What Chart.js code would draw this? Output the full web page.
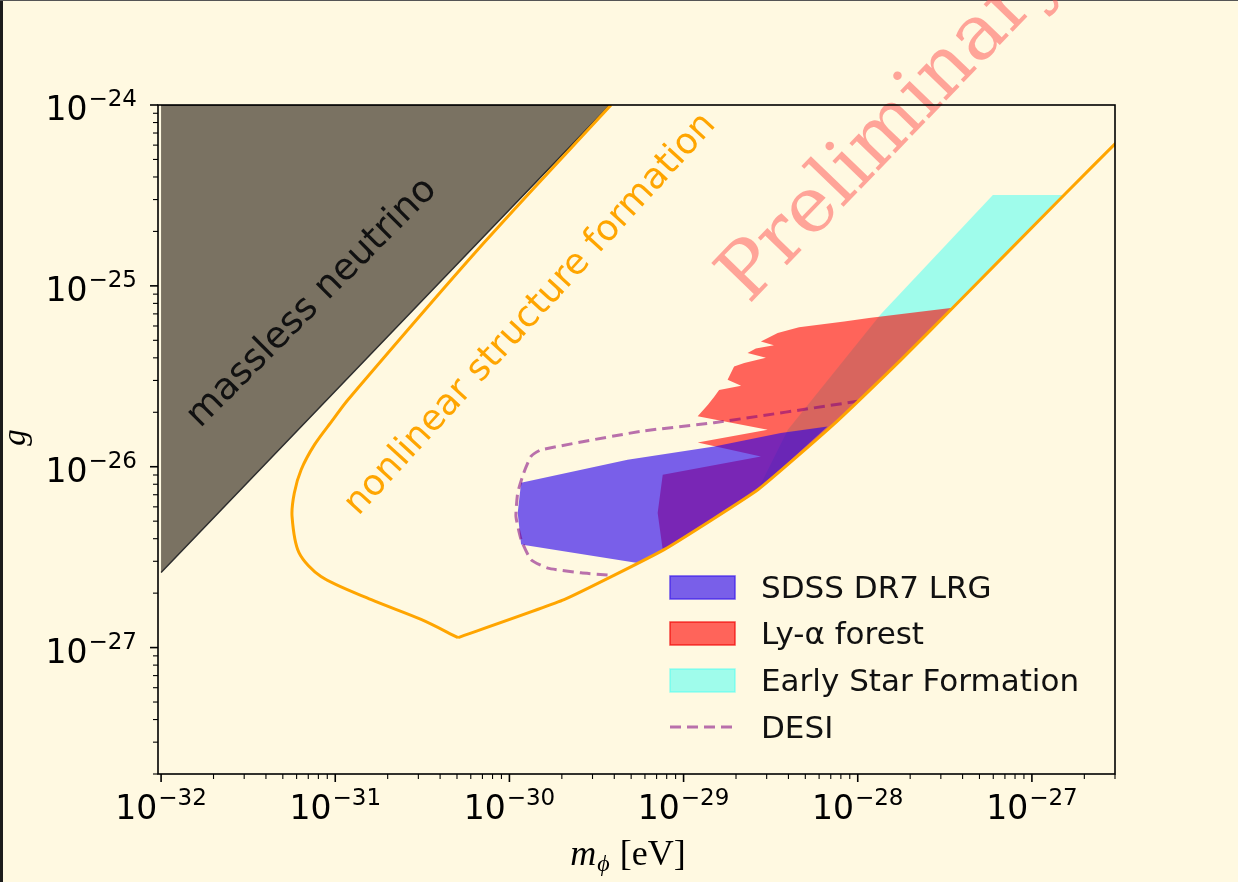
<!DOCTYPE html>
<html>
<head>
<meta charset="utf-8">
<script src="https://cdn.jsdelivr.net/npm/chart.js@4.4.1/dist/chart.umd.min.js"></script>
<style>
  body { margin: 0; background: #fff9e1; }
  canvas { display: block; }
</style>
</head>
<body>
<canvas id="boundsChart" width="1238" height="882"></canvas>
<script>
// axis limits and decade ticks
const massRange = [9.6e-33, 3e-27];
const couplingRange = [2e-28, 1e-24];
const massDecades = [-32, -31, -30, -29, -28, -27];
const couplingDecades = [-27, -26, -25, -24];

// massless neutrino (excluded, grey)
const neutrinoMass = [1e-32, 3.78e-30, 1e-32];
const neutrinoG = [2.6e-27, 1e-24, 1e-24];

// nonlinear structure formation boundary (orange), upper and lower branch
const nonlinearUpperMass = [3.83e-30, 7.14e-31, 1.18e-31, 9.7e-32, 7.59e-32, 6.37e-32, 5.82e-32, 5.65e-32,
  6.19e-32, 8.28e-32, 1.61e-31, 3.11e-31, 5.07e-31];
const nonlinearUpperG = [1e-24, 1.73e-25, 2.34e-26, 1.82e-26, 1.32e-26, 9.62e-27, 7.16e-27, 5.30e-27,
  3.35e-27, 2.47e-27, 1.84e-27, 1.43e-27, 1.135e-27];
const nonlinearLowerMass = [5.07e-31, 2.06e-30, 7.73e-30, 2.67e-29, 7.01e-29, 1.77e-28, 3.56e-28, 1.53e-27, 3.1e-27];
const nonlinearLowerG = [1.135e-27, 1.84e-27, 3.48e-27, 7.46e-27, 1.66e-26, 3.90e-26, 7.66e-26, 3.18e-25, 6.3e-25];

// early star formation (cyan)
const starMass = [5.97e-28, 1.53e-27, 3.56e-28, 1.77e-28, 1.0e-28, 7.01e-29, 2.67e-29, 3.97e-29, 1.36e-28];
const starG = [3.18e-25, 3.18e-25, 7.66e-26, 3.90e-26, 2.29e-26, 1.66e-26, 7.46e-27, 1.60e-26, 7.0e-26];

// Ly-alpha forest (red)
const lyaMass = [3.51e-28, 1.16e-28, 8.36e-29, 4.6e-29, 3.47e-29, 2.78e-29, 3.3e-29, 2.6e-29, 2.33e-29, 2.97e-29,
  2.23e-29, 1.95e-29, 1.79e-29, 2.14e-29, 1.60e-29, 1.50e-29, 1.38e-29, 1.205e-29, 3.04e-29, 1.205e-29,
  2.78e-29, 7.59e-30, 7.10e-30, 7.59e-30, 2.67e-29, 7.01e-29, 1.77e-28];
const lyaG = [7.56e-26, 6.65e-26, 6.35e-26, 5.9e-26, 5.48e-26, 4.92e-26, 4.7e-26, 4.5e-26, 4.25e-26, 4.00e-26,
  3.74e-26, 3.58e-26, 3.03e-26, 2.80e-26, 2.66e-26, 2.44e-26, 2.2e-26, 1.90e-26, 1.60e-26, 1.36e-26,
  1.14e-26, 9.03e-27, 5.55e-27, 3.48e-27, 7.46e-27, 1.66e-26, 3.90e-26];

// SDSS DR7 LRG (blue)
const sdssMass = [1.167e-30, 1.116e-30, 1.167e-30, 5.45e-30, 7.73e-30, 2.67e-29, 6.71e-29, 3.62e-29, 1.50e-29, 4.77e-30];
const sdssG = [8.16e-27, 5.55e-27, 3.71e-27, 2.94e-27, 3.48e-27, 7.46e-27, 1.67e-26, 1.535e-26, 1.294e-26, 1.094e-26];

// DESI forecast (dashed)
const desiMass = [3.66e-30, 2.58e-30, 1.66e-30, 1.33e-30, 1.167e-30, 1.09e-30, 1.116e-30, 1.21e-30, 1.33e-30,
  1.52e-30, 5.69e-30, 1.494e-29, 9.98e-29];
const desiG = [2.52e-27, 2.59e-27, 2.75e-27, 3.06e-27, 3.95e-27, 5.31e-27, 7.18e-27, 9.27e-27, 1.14e-26,
  1.24e-26, 1.57e-26, 1.75e-26, 2.30e-26];

function pts(xs, ys) {
    return xs.map((x, i) => ({ x: x, y: ys[i] }));
}

const clear = 'rgba(0,0,0,0)';

const decor = {
    id: 'decor',
    beforeDraw(chart) {
        const ctx = chart.ctx;
        ctx.save();
        ctx.fillStyle = '#fff9e1';
        ctx.fillRect(0, 0, chart.width, chart.height);
        ctx.fillStyle = '#1c1c1c';
        ctx.fillRect(0, 0, 3, chart.height);
        ctx.fillStyle = '#555';
        ctx.fillRect(0, 0, chart.width, 1);
        ctx.restore();
    },
    afterDatasetsDraw(chart) {
        const ctx = chart.ctx;
        const xs = chart.scales.x, ys = chart.scales.y;
        const area = chart.chartArea;

        function note(text, mx, gy, angle, font, color, align) {
            ctx.save();
            ctx.translate(xs.getPixelForValue(mx), ys.getPixelForValue(gy));
            ctx.rotate(angle * Math.PI / 180);
            ctx.font = font;
            ctx.fillStyle = color;
            ctx.textAlign = align;
            ctx.textBaseline = 'alphabetic';
            ctx.fillText(text, 0, 0);
            ctx.restore();
        }

        ctx.save();
        ctx.beginPath();
        ctx.rect(area.left, area.top, area.right - area.left, area.bottom - area.top);
        ctx.clip();
        note('massless neutrino', 8.07e-32, 7.37e-26, -45, '37px "DejaVu Sans"', '#111', 'center');
        note('nonlinear structure formation', 1.45e-30, 6.4e-26, -47.5, '36px "DejaVu Sans"', '#ffa500', 'center');
        ctx.restore();

        // watermark
        note('Preliminary', 2.37e-29, 7.85e-26, -46, '77px "DejaVu Serif"', 'rgba(255,80,80,0.5)', 'left');
    },
    afterDraw(chart) {
        const ctx = chart.ctx;
        const xs = chart.scales.x, ys = chart.scales.y;
        const a = chart.chartArea;
        ctx.save();

        // frame
        ctx.strokeStyle = '#000';
        ctx.lineWidth = 1.6;
        ctx.strokeRect(a.left, a.top, a.right - a.left, a.bottom - a.top);

        // ticks
        function tickX(v, len, w) {
            const p = xs.getPixelForValue(v);
            if (p < a.left - 0.5 || p > a.right + 0.5) return;
            ctx.lineWidth = w;
            ctx.beginPath();
            ctx.moveTo(p, a.bottom);
            ctx.lineTo(p, a.bottom + len);
            ctx.stroke();
        }
        function tickY(v, len, w) {
            const p = ys.getPixelForValue(v);
            if (p < a.top - 0.5 || p > a.bottom + 0.5) return;
            ctx.lineWidth = w;
            ctx.beginPath();
            ctx.moveTo(a.left, p);
            ctx.lineTo(a.left - len, p);
            ctx.stroke();
        }
        for (let n = -33; n <= -27; n++) {
            for (let k = 2; k <= 9; k++) tickX(k * Math.pow(10, n), 5, 1.1);
        }
        for (let n = -29; n <= -25; n++) {
            for (let k = 2; k <= 9; k++) tickY(k * Math.pow(10, n), 5, 1.1);
        }
        massDecades.forEach(n => tickX(Math.pow(10, n), 8, 1.6));
        couplingDecades.forEach(n => tickY(Math.pow(10, n), 8, 1.6));

        // tick labels, 10 with raised exponent
        function power(exp, x, y, align) {
            const sup = '\u2212' + Math.abs(exp);
            ctx.font = '33px "DejaVu Sans"';
            const wb = ctx.measureText('10').width;
            ctx.font = '23px "DejaVu Sans"';
            const ws = ctx.measureText(sup).width;
            const total = wb + ws + 1;
            const left = align === 'center' ? x - total / 2 : x - total;
            ctx.fillStyle = '#000';
            ctx.textAlign = 'left';
            ctx.textBaseline = 'alphabetic';
            ctx.font = '33px "DejaVu Sans"';
            ctx.fillText('10', left, y);
            ctx.font = '23px "DejaVu Sans"';
            ctx.fillText(sup, left + wb + 1, y - 14);
        }
        massDecades.forEach(n => power(n, xs.getPixelForValue(Math.pow(10, n)), a.bottom + 45, 'center'));
        couplingDecades.forEach(n => power(n, a.left - 21, ys.getPixelForValue(Math.pow(10, n)) + 15, 'right'));

        // axis titles
        ctx.fillStyle = '#000';
        ctx.textBaseline = 'alphabetic';
        ctx.save();
        ctx.translate(25, (a.top + a.bottom) / 2 - 2);
        ctx.rotate(-Math.PI / 2);
        ctx.font = 'italic 33px "Liberation Serif"';
        ctx.textAlign = 'center';
        ctx.fillText('g', 0, 0);
        ctx.restore();

        const fm = 'italic 36px "Liberation Serif"';
        const fs = 'italic 24px "Liberation Serif"';
        const fr = '36px "Liberation Serif"';
        ctx.font = fm; const w1 = ctx.measureText('m').width;
        ctx.font = fs; const w2 = ctx.measureText('\u03d5').width;
        ctx.font = fr; const w3 = ctx.measureText(' [eV]').width;
        let lx = 628 - (w1 + w2 + w3 + 2) / 2;
        const ly = 865;
        ctx.textAlign = 'left';
        ctx.font = fm; ctx.fillText('m', lx, ly); lx += w1 + 1;
        ctx.font = fs; ctx.fillText('\u03d5', lx, ly + 6); lx += w2 + 1;
        ctx.font = fr; ctx.fillText(' [eV]', lx, ly);

        // legend
        const rows = [
            { ds: 3, cy: 587 },
            { ds: 4, cy: 633 },
            { ds: 5, cy: 680 },
            { ds: 2, cy: 727 }
        ];
        rows.forEach(r => {
            const d = chart.data.datasets[r.ds];
            if (d.borderDash) {
                ctx.strokeStyle = d.borderColor;
                ctx.lineWidth = d.borderWidth;
                ctx.setLineDash(d.borderDash);
                ctx.beginPath();
                ctx.moveTo(670, r.cy);
                ctx.lineTo(735, r.cy);
                ctx.stroke();
                ctx.setLineDash([]);
            } else {
                ctx.fillStyle = d.backgroundColor;
                ctx.fillRect(670, r.cy - 11, 65, 23);
                ctx.strokeStyle = d.legendEdge;
                ctx.lineWidth = 1.5;
                ctx.strokeRect(670, r.cy - 11, 65, 23);
            }
            ctx.fillStyle = '#111';
            ctx.font = '31px "DejaVu Sans"';
            ctx.fillText(d.label, 761, r.cy + 11);
        });
        ctx.restore();
    }
};

new Chart(document.getElementById('boundsChart'), {
    type: 'line',
    data: {
        datasets: [
            {
                label: 'nonlinear structure formation',
                data: pts(nonlinearUpperMass, nonlinearUpperG),
                borderColor: '#ffa500',
                borderWidth: 3,
                tension: 0.3,
                fill: false,
                order: 0
            },
            {
                label: 'nonlinear structure formation (lower)',
                data: pts(nonlinearLowerMass, nonlinearLowerG),
                borderColor: '#ffa500',
                borderWidth: 3,
                tension: 0.12,
                fill: false,
                order: 0
            },
            {
                label: 'DESI',
                data: pts(desiMass, desiG),
                borderColor: 'rgba(128,0,128,0.55)',
                borderWidth: 3,
                borderDash: [11, 6],
                tension: 0.15,
                fill: false,
                order: 1
            },
            {
                label: 'SDSS DR7 LRG',
                data: pts(sdssMass, sdssG),
                backgroundColor: 'rgba(38,0,238,0.62)',
                borderColor: clear,
                borderWidth: 0,
                legendEdge: 'rgba(60,30,235,0.75)',
                fill: 'shape',
                order: 2
            },
            {
                label: 'Ly-\u03b1 forest',
                data: pts(lyaMass, lyaG),
                backgroundColor: 'rgba(255,0,0,0.6)',
                borderColor: clear,
                borderWidth: 0,
                legendEdge: 'rgba(240,0,0,0.7)',
                fill: 'shape',
                order: 3
            },
            {
                label: 'Early Star Formation',
                data: pts(starMass, starG),
                backgroundColor: 'rgba(64,255,245,0.5)',
                borderColor: clear,
                borderWidth: 0,
                legendEdge: 'rgba(64,255,245,0.5)',
                fill: 'shape',
                order: 4
            },
            {
                label: 'massless neutrino',
                data: pts(neutrinoMass, neutrinoG),
                backgroundColor: '#7a7262',
                borderColor: '#2e2e2e',
                borderWidth: 1.5,
                fill: 'shape',
                order: 5
            }
        ]
    },
    options: {
        responsive: false,
        animation: false,
        layout: { padding: { left: 158, right: 123, top: 105, bottom: 108 } },
        elements: {
            point: { radius: 0, hoverRadius: 0 },
            line: { tension: 0 }
        },
        scales: {
            x: { type: 'logarithmic', min: massRange[0], max: massRange[1], display: false },
            y: { type: 'logarithmic', min: couplingRange[0], max: couplingRange[1], display: false }
        },
        plugins: {
            legend: { display: false },
            tooltip: { enabled: false }
        }
    },
    plugins: [decor]
});
</script>
</body>
</html>
